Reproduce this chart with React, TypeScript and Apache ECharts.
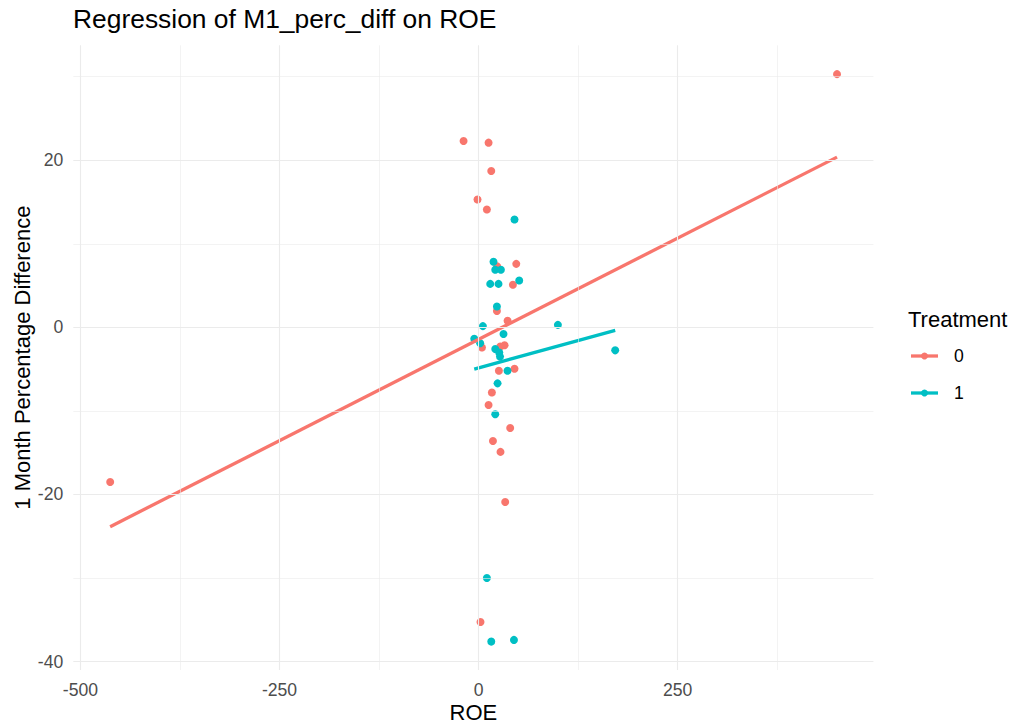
import React, { useEffect, useRef } from "react";
import * as echarts from "echarts";

const title = "Regression of M1_perc_diff on ROE";
const xTitle = "ROE";
const yTitle = "1 Month Percentage Difference";
const legendTitle = "Treatment";
const groups = ["0", "1"];
const colors = ["#F8766D", "#00BFC4"];

const xMajor = [-500, -250, 0, 250];
const xMinor = [-375, -125, 125, 375];
const yMajor = [-40, -20, 0, 20];
const yMinor = [-30, -10, 10, 30];

// Treatment 0 points [ROE, M1_perc_diff]
const roe0 = [-18.8, 12.6, 16, -1.3, 10.5, 47.4, 23.5, 43.2, 23.1, 36.5, 4.3, 27.3, 32.7, 25.6, 45.2, 16.8, 12.6, 39.8, 18.1, 27.6, 33.5, 2.5, 450.3, -462.7];
const diff0 = [22.3, 22.1, 18.7, 15.3, 14.1, 7.6, 7.3, 5.1, 1.95, 0.8, -2.4, -2.3, -2.15, -5.2, -4.95, -7.8, -9.3, -12.05, -13.6, -14.9, -20.9, -35.25, 30.3, -18.5];

// Treatment 1 points
const roe1 = [45.2, 18.8, 21, 28.1, 51.1, 14.7, 25.1, 23.1, 5.5, 99.7, -5.4, 31.4, 2.1, 21, 26, 27, 36.4, 23.9, 21, 171.7, 10.5, 16, 44.5];
const diff1 = [12.9, 7.85, 6.9, 6.9, 5.6, 5.2, 5.2, 2.5, 0.15, 0.3, -1.36, -0.8, -1.9, -2.6, -3.0, -3.5, -5.2, -6.7, -10.4, -2.75, -30, -37.6, -37.4];

// Fitted regression line endpoints
const fit0X = [-462.7, 450.3];
const fit0Y = [-23.85, 20.37];
const fit1X = [-5.4, 171.7];
const fit1Y = [-4.99, -0.36];

const X_MIN = -509;
const X_MAX = 496;
const Y_MIN = -41.0;
const Y_MAX = 33.75;

const FONT = "'Liberation Sans', Arial, sans-serif";
const GRID = "#EBEBEB";

export default function App() {
  const ref = useRef<HTMLDivElement>(null);
  useEffect(() => {
    if (!ref.current) return;
    const chart = echarts.init(ref.current, null, { renderer: "svg" });
    const pts0 = roe0.map((x, i) => [x, diff0[i]]);
    const pts1 = roe1.map((x, i) => [x, diff1[i]]);
    const line0 = fit0X.map((x, i) => [x, fit0Y[i]]);
    const line1 = fit1X.map((x, i) => [x, fit1Y[i]]);

    const gridLines = [
      ...xMinor.map((v) => ({ xAxis: v, lineStyle: { color: GRID, width: 0.6, type: "solid" } })),
      ...yMinor.map((v) => ({ yAxis: v, lineStyle: { color: GRID, width: 0.6, type: "solid" } })),
      ...xMajor.map((v) => ({ xAxis: v, lineStyle: { color: GRID, width: 1.1, type: "solid" } })),
      ...yMajor.map((v) => ({ yAxis: v, lineStyle: { color: GRID, width: 1.1, type: "solid" } })),
    ];

    const lx = 911;
    const legendItems: any[] = [];
    groups.forEach((g, i) => {
      const cy = 356 + i * 37;
      legendItems.push(
        { type: "line", shape: { x1: lx, y1: cy, x2: lx + 27, y2: cy }, style: { stroke: colors[i], lineWidth: 3.3 } },
        { type: "circle", shape: { cx: lx + 13.5, cy, r: 3.5 }, style: { fill: colors[i] } },
        { type: "text", x: 954, y: cy, style: { text: g, font: `17.6px ${FONT}`, fill: "#000", verticalAlign: "middle", align: "left" } }
      );
    });

    chart.setOption({
      animation: false,
      backgroundColor: "#fff",
      title: {
        text: title,
        left: 73,
        top: 6,
        padding: 0,
        textStyle: { fontFamily: FONT, fontSize: 26.4, fontWeight: "normal", color: "#000" },
      },
      grid: { left: 73.3, right: 138.6, top: 45.3, bottom: 56, containLabel: false, outerBoundsMode: "none" },
      xAxis: {
        type: "value",
        min: X_MIN,
        max: X_MAX,
        name: xTitle,
        nameLocation: "middle",
        nameGap: 31,
        nameMoveOverlap: false,
        nameTextStyle: { fontFamily: FONT, fontSize: 22, color: "#000" },
        axisLine: { show: false },
        axisTick: { show: false, customValues: xMajor },
        splitLine: { show: false },
        axisLabel: { customValues: xMajor, fontFamily: FONT, fontSize: 17.6, color: "#4D4D4D", margin: 11 },
      },
      yAxis: {
        type: "value",
        min: Y_MIN,
        max: Y_MAX,
        name: yTitle,
        nameLocation: "middle",
        nameGap: 40,
        nameMoveOverlap: false,
        nameRotate: 90,
        nameTextStyle: { fontFamily: FONT, fontSize: 22, color: "#000" },
        axisLine: { show: false },
        axisTick: { show: false, customValues: yMajor },
        splitLine: { show: false },
        axisLabel: { customValues: yMajor, fontFamily: FONT, fontSize: 17.6, color: "#4D4D4D", margin: 10 },
      },
      series: [
        {
          type: "line",
          name: "grid",
          data: [],
          silent: true,
          z: 0,
          markLine: { silent: true, symbol: "none", label: { show: false }, data: gridLines, animation: false },
        },
        {
          type: "scatter",
          name: groups[0],
          data: pts0,
          symbol: "circle",
          symbolSize: 8,
          itemStyle: { color: colors[0], opacity: 1 },
          z: 2,
        },
        {
          type: "scatter",
          name: groups[1],
          data: pts1,
          symbol: "circle",
          symbolSize: 8,
          itemStyle: { color: colors[1], opacity: 1 },
          z: 2,
        },
        {
          type: "line",
          name: groups[0] + " fit",
          data: line0,
          showSymbol: false,
          lineStyle: { color: colors[0], width: 3.3 },
          z: 3,
        },
        {
          type: "line",
          name: groups[1] + " fit",
          data: line1,
          showSymbol: false,
          lineStyle: { color: colors[1], width: 3.3 },
          z: 3,
        },
      ],
      graphic: [
        {
          type: "text",
          left: 908,
          top: 308,
          style: { text: legendTitle, font: `22px ${FONT}`, fill: "#000" },
        },
        ...legendItems,
      ],
    });
    return () => chart.dispose();
  }, []);
  return <div ref={ref} style={{ width: 1012, height: 726, position: "absolute", left: 0, top: 0 }} />;
}
